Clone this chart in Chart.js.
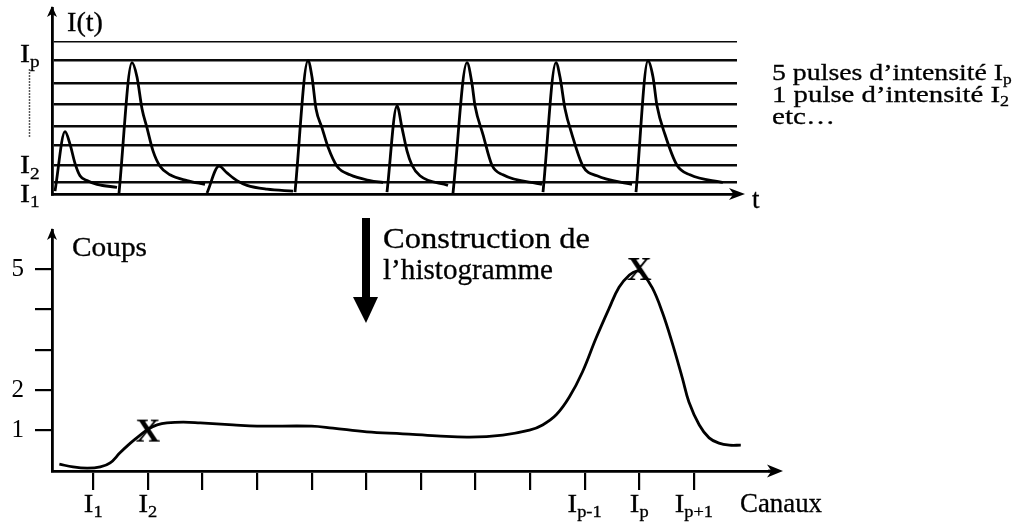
<!DOCTYPE html>
<html>
<head>
<meta charset="utf-8">
<script src="https://cdn.jsdelivr.net/npm/chart.js@4.4.0/dist/chart.umd.min.js"></script>
<style>
html,body{margin:0;padding:0;background:#fff;}
#wrap{position:relative;width:1028px;height:525px;overflow:hidden;background:#fff;}
.pane{position:absolute;left:0;width:1028px;}
</style>
</head>
<body>
<div id="wrap">
  <div class="pane" style="top:0;height:215px"><canvas id="top" width="1028" height="215"></canvas></div>
  <div class="pane" style="top:215px;height:310px"><canvas id="bot" width="1028" height="310"></canvas></div>
</div>
<script>
const FONT = "'Liberation Serif', 'Times New Roman', serif";

// ---------- Top panel: I(t) ----------
const gridLevels = [12, 30, 51, 71, 94, 115, 139, 159];
const levelLabelValues = [0, 30, 146];
const levelLabelSubs = ['1', '2', 'p'];

const pulse1T = [55, 65, 70, 75, 80, 87, 97, 117];
const pulse1I = [3, 65, 52, 32, 19, 14, 10, 7];
const pulse2T = [119, 132, 137, 142, 147, 153, 160, 170, 187, 205];
const pulse2I = [1, 137, 122, 89, 69, 45, 29, 20, 14, 10];
const pulse3T = [207, 219, 227, 237, 247, 267, 293];
const pulse3I = [1, 29, 22, 14, 9, 5, 3];
const pulse4T = [295, 308, 312, 316, 322, 328, 337, 350, 370, 383];
const pulse4I = [2, 139, 122, 89, 69, 49, 29, 20, 14, 12];
const pulse5T = [387, 397, 402, 407, 412, 420, 448];
const pulse5I = [2, 92, 69, 45, 30, 19, 9];
const pulse6T = [453, 467, 472, 475, 483, 492, 503, 542];
const pulse6I = [1, 137, 115, 92, 62, 30, 20, 10];
const pulse7T = [543, 556, 560, 565, 572, 583, 597, 632];
const pulse7I = [2, 137, 122, 89, 62, 29, 19, 10];
const pulse8T = [636, 648, 653, 657, 665, 677, 690, 723];
const pulse8I = [2, 139, 122, 92, 62, 30, 20, 12];

const pulseTimes = [pulse1T, pulse2T, pulse3T, pulse4T, pulse5T, pulse6T, pulse7T, pulse8T];
const pulseInts  = [pulse1I, pulse2I, pulse3I, pulse4I, pulse5I, pulse6I, pulse7I, pulse8I];

// ---------- Bottom panel: histogram ----------
const channelTicks = [0, 1, 2, 3, 4, 5, 6, 7, 8, 9, 10, 11];
const channelSubs  = ['1', '2', '', '', '', '', '', '', '', 'p-1', 'p', 'p+1'];
const countTicks  = [1, 2, 3, 4, 5];
const countLabels = ['1', '2', '', '', '5'];

const curveX = [-0.62,-0.37,-0.11,0.13,0.31,0.49,0.68,0.86,1.01,1.17,1.35,1.65,1.96,2.56,3.00,4.00,4.39,5.01,5.67,6.29,6.89,7.50,7.99,8.23,8.48,8.72,8.96,9.21,9.45,9.63,9.82,9.95,10.05,10.24,10.42,10.60,10.79,10.91,11.10,11.28,11.46,11.65,11.86];
const curveY = [0.17,0.10,0.07,0.10,0.20,0.45,0.69,0.89,1.04,1.14,1.19,1.21,1.19,1.14,1.11,1.11,1.06,0.97,0.92,0.87,0.84,0.89,1.01,1.14,1.39,1.83,2.45,3.29,4.03,4.55,4.85,4.95,4.90,4.53,3.94,3.19,2.30,1.71,1.14,0.82,0.69,0.64,0.64];

const markX = [1, 10];
const markY = [1, 5];

// ---------- helpers ----------
function ink(ctx, s, x, y) {
  ctx.fillText(s, x, y);
  ctx.lineWidth = 0.3; ctx.strokeStyle = '#000';
  ctx.strokeText(s, x, y);
}
function txt(ctx, s, x, y, size, w) {
  ctx.save();
  ctx.font = size + 'px ' + FONT;
  const m = ctx.measureText(s).width;
  const sx = w ? w / m : 1;
  ctx.translate(x, y); ctx.scale(sx, 1);
  ctx.textAlign = 'left'; ctx.textBaseline = 'alphabetic'; ctx.fillStyle = '#000';
  ink(ctx, s, 0, 0);
  ctx.restore();
  return { width: m * sx, sx: sx };
}
function subText(ctx, s, x, y, size, sx) {
  ctx.save();
  ctx.translate(x, y); ctx.scale(sx, 1);
  ctx.font = size + 'px ' + FONT; ctx.fillStyle = '#000';
  ctx.textAlign = 'left'; ctx.textBaseline = 'alphabetic';
  ink(ctx, s, 0, 0);
  ctx.restore();
}
function subLabel(ctx, x, yb, main, sub, size, subSize, sx, align) {
  ctx.save();
  ctx.font = size + 'px ' + FONT;
  const mw = ctx.measureText(main).width;
  ctx.font = subSize + 'px ' + FONT;
  const sw = ctx.measureText(sub).width;
  const total = (mw + sw) * sx;
  const x0 = align === 'center' ? x - total / 2 : x;
  ctx.translate(x0, yb); ctx.scale(sx, 1);
  ctx.fillStyle = '#000'; ctx.textAlign = 'left'; ctx.textBaseline = 'alphabetic';
  ctx.font = size + 'px ' + FONT; ink(ctx, main, 0, 0);
  ctx.font = subSize + 'px ' + FONT; ink(ctx, sub, mw, subSize * 0.33);
  ctx.restore();
}
function arrowUp(ctx, x, tip, hw, len) {
  ctx.beginPath();
  ctx.moveTo(x, tip); ctx.lineTo(x + hw, tip + len); ctx.lineTo(x, tip + len * 0.72); ctx.lineTo(x - hw, tip + len);
  ctx.closePath(); ctx.fill();
}
function arrowRight(ctx, tip, y, hh, len) {
  ctx.beginPath();
  ctx.moveTo(tip, y); ctx.lineTo(tip - len, y - hh); ctx.lineTo(tip - len * 0.72, y); ctx.lineTo(tip - len, y + hh);
  ctx.closePath(); ctx.fill();
}

// ---------- top chart ----------
const topDeco = {
  id: 'topDeco',
  afterDraw(chart) {
    const { ctx, chartArea: a, scales: { y } } = chart;
    ctx.save();
    ctx.fillStyle = '#000';
    arrowUp(ctx, a.left, a.top - 2, 5, 11);
    ctx.fillRect(a.right - 2, a.bottom - 1.4, 4, 2.8);
    arrowRight(ctx, a.right + 8, a.bottom, 6, 16);
    levelLabelValues.forEach((v, i) => {
      subLabel(ctx, 20, y.getPixelForValue(v) + 8, 'I', levelLabelSubs[i], 25, 16, 1.2, 'left');
    });
    ctx.strokeStyle = '#222'; ctx.lineWidth = 1.5; ctx.setLineDash([1.5, 1.5]);
    ctx.beginPath(); ctx.moveTo(29.5, y.getPixelForValue(130)); ctx.lineTo(29.5, y.getPixelForValue(59)); ctx.stroke();
    ctx.setLineDash([]);
    txt(ctx, 'I(t)', 67, 31, 27, 36);
    txt(ctx, 't', 752, 208, 27, 0);
    const r1 = txt(ctx, '5 pulses d\u2019intensité I', 772, 80, 24, 231);
    subText(ctx, 'p', 772 + r1.width, 84, 15, r1.sx);
    const r2 = txt(ctx, '1 pulse d\u2019intensité I', 772, 102, 24, 228);
    subText(ctx, '2', 772 + r2.width, 106, 15, r2.sx);
    txt(ctx, 'etc\u2026', 772, 124, 24, 63);
    ctx.restore();
  }
};

new Chart(document.getElementById('top'), {
  type: 'line',
  data: {
    datasets: pulseTimes.map((ts, k) => ({
      data: ts.map((t, i) => ({ x: t, y: pulseInts[k][i] })),
      borderColor: '#000', borderWidth: 2.8, pointRadius: 0, fill: false,
      cubicInterpolationMode: 'monotone'
    }))
  },
  options: {
    responsive: false, animation: false, devicePixelRatio: 1,
    layout: { padding: { left: 52, top: 8, right: 291, bottom: 13 } },
    plugins: { legend: { display: false }, tooltip: { enabled: false } },
    scales: {
      x: {
        type: 'linear', min: 52, max: 737,
        grid: { display: false }, ticks: { display: false },
        border: { display: true, color: '#000', width: 2.8 }
      },
      y: {
        type: 'linear', min: 0, max: 194,
        afterBuildTicks: s => { s.ticks = gridLevels.map(v => ({ value: v })); },
        grid: { display: true, drawTicks: false, color: '#0a0a0a',
                lineWidth: c => (c.index === gridLevels.length - 1 ? 1.6 : 2.6) },
        ticks: { display: false },
        border: { display: true, color: '#000', width: 2.8 }
      }
    }
  },
  plugins: [topDeco]
});

// ---------- bottom chart ----------
function makeXMark() {
  const c = document.createElement('canvas');
  c.width = 32; c.height = 32;
  const g = c.getContext('2d');
  g.font = 'bold 34px ' + FONT; g.textAlign = 'center'; g.textBaseline = 'alphabetic'; g.fillStyle = '#000';
  g.fillText('X', 16, 27);
  return c;
}

const botDeco = {
  id: 'botDeco',
  afterDraw(chart) {
    const { ctx, chartArea: a, scales: { x } } = chart;
    ctx.save();
    ctx.fillStyle = '#000';
    arrowUp(ctx, a.left, a.top - 2, 5, 12);
    ctx.fillRect(a.right - 2, a.bottom - 1.4, 4, 2.8);
    arrowRight(ctx, a.right + 13, a.bottom, 6.5, 16);
    channelTicks.forEach((v, i) => {
      if (channelSubs[i]) subLabel(ctx, x.getPixelForValue(v), 297, 'I', channelSubs[i], 25, 16, 1.15, 'center');
    });
    txt(ctx, 'Coups', 72, 41, 27, 75);
    txt(ctx, 'Canaux', 740, 297, 27, 82);
    txt(ctx, 'Construction de', 383, 33, 29, 207);
    txt(ctx, 'l\u2019histogramme', 383, 64, 29, 170);
    ctx.fillRect(362, 3, 8, 82);
    ctx.beginPath(); ctx.moveTo(353, 82); ctx.lineTo(378, 82); ctx.lineTo(366, 108); ctx.closePath(); ctx.fill();
    ctx.restore();
  }
};

new Chart(document.getElementById('bot'), {
  type: 'line',
  data: {
    datasets: [
      {
        data: curveX.map((v, i) => ({ x: v, y: curveY[i] })),
        borderColor: '#000', borderWidth: 2.8, pointRadius: 0, fill: false,
        tension: 0.4
      },
      {
        type: 'scatter',
        data: markX.map((v, i) => ({ x: v, y: markY[i] })),
        pointStyle: makeXMark(), pointRadius: 12, showLine: false,
        borderColor: '#000', backgroundColor: '#000'
      }
    ]
  },
  options: {
    responsive: false, animation: false, devicePixelRatio: 1,
    layout: { padding: { left: 0, top: 15, right: 258, bottom: 0 } },
    plugins: { legend: { display: false }, tooltip: { enabled: false } },
    scales: {
      x: {
        type: 'linear', min: -0.755, max: 12.395,
        afterBuildTicks: s => { s.ticks = channelTicks.map(v => ({ value: v })); },
        afterFit: s => { s.height = 54; s.paddingLeft = 0; s.paddingRight = 0; },
        grid: { display: true, drawOnChartArea: false, drawTicks: true, tickLength: 19, color: '#000', lineWidth: 2.2 },
        ticks: { display: false },
        border: { display: true, color: '#000', width: 2.8 }
      },
      y: {
        type: 'linear', min: 0, max: 5.965,
        afterBuildTicks: s => { s.ticks = countTicks.map(v => ({ value: v })); },
        afterFit: s => { s.width = 52; s.paddingTop = 0; s.paddingBottom = 0; },
        grid: { display: true, drawOnChartArea: false, drawTicks: true, tickLength: 17, color: '#000', lineWidth: 2.2 },
        ticks: { display: true, padding: 11, color: '#000', autoSkip: false,
                 font: { family: FONT, size: 25 },
                 callback: (v, i) => countLabels[i] },
        border: { display: true, color: '#000', width: 2.8 }
      }
    }
  },
  plugins: [botDeco]
});
</script>
</body>
</html>
